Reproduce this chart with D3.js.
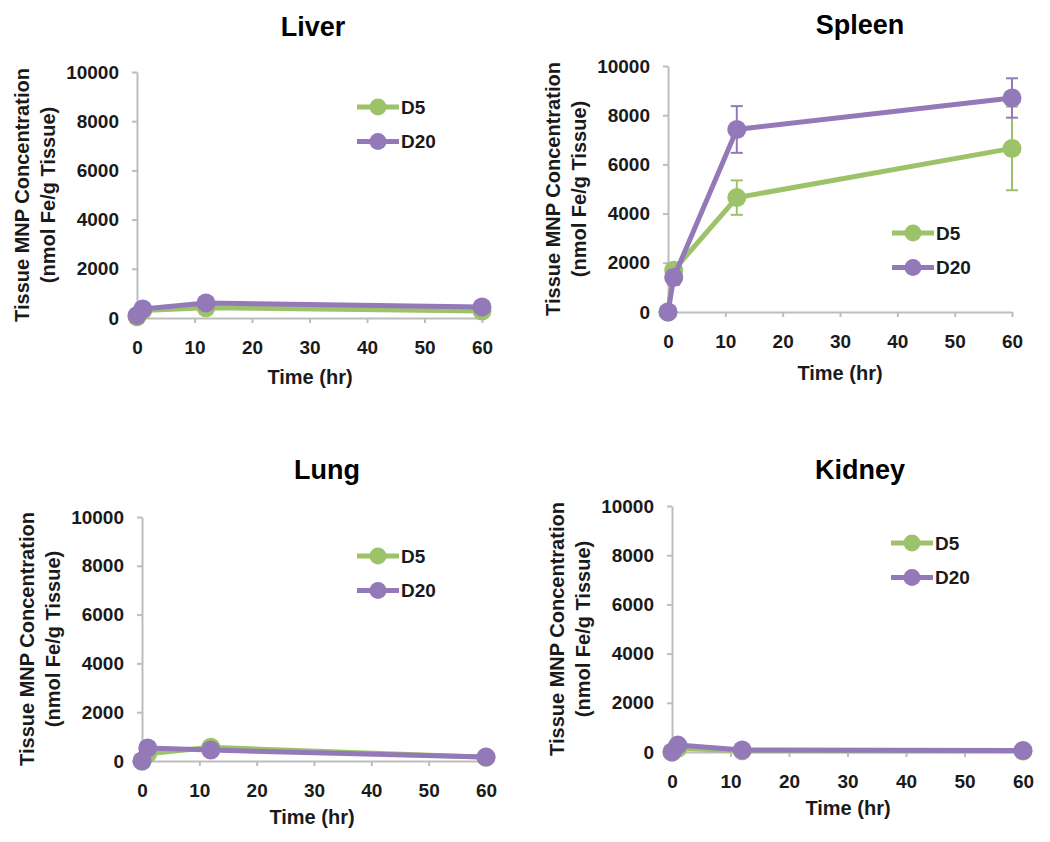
<!DOCTYPE html>
<html>
<head>
<meta charset="utf-8">
<script src="https://cdn.jsdelivr.net/npm/d3@7"></script>
<style>
  body { margin: 0; background: #fff; }
  svg { display: block; font-family: "Liberation Sans", Arial, sans-serif; font-weight: bold; }
</style>
</head>
<body>
<div id="chart"></div>
<script>
// sample times (hr)
const times = [0, 1, 12, 60];
const seriesNames = ["D5", "D20"];
const xTicks = [0, 10, 20, 30, 40, 50, 60];
const yTicks = [0, 2000, 4000, 6000, 8000, 10000];

// values (nmol Fe/g tissue)
const liverD5 = [50, 300, 420, 280];
const liverD20 = [100, 370, 610, 450];
const spleenD5 = [0, 1700, 4650, 6650];
const spleenD20 = [0, 1400, 7420, 8700];
const spleenD5Err = [0, 250, 700, 1700];
const spleenD20Err = [0, 300, 950, 800];
const lungD5 = [0, 300, 560, 150];
const lungD20 = [0, 530, 450, 160];
const kidneyD5 = [0, 150, 50, 40];
const kidneyD20 = [0, 280, 80, 60];

const colors = { D5: "#9dc36a", D20: "#9479b9" };
const textColor = "#1a1a1a";
const axisColor = "#bdbdbd";

// panel layout: x0/x1 = pixel for 0 and 60 hr, y0/y1 = pixel for 0 and 10000
const panels = [
  { title: "Liver", d5: liverD5, d20: liverD20,
    x0: 137, x1: 482, y0: 318, y1: 72, titleX: 313, titleY: 27, timeX: 310, timeY: 377, legX: 378, legY: 107 },
  { title: "Spleen", d5: spleenD5, d20: spleenD20, e5: spleenD5Err, e20: spleenD20Err,
    x0: 668, x1: 1012, y0: 312, y1: 66, titleX: 860, titleY: 25, timeX: 840, timeY: 373, legX: 913, legY: 233 },
  { title: "Lung", d5: lungD5, d20: lungD20,
    x0: 142, x1: 486, y0: 761, y1: 517, titleX: 327, titleY: 470, timeX: 312, timeY: 817, legX: 378, legY: 556 },
  { title: "Kidney", d5: kidneyD5, d20: kidneyD20,
    x0: 672, x1: 1023, y0: 752, y1: 506, titleX: 860, titleY: 470, timeX: 848, timeY: 808, legX: 912, legY: 543 }
];

const width = 1050, height = 842;
const svg = d3.select("#chart").append("svg")
  .attr("width", width)
  .attr("height", height);

panels.forEach(p => {
  const g = svg.append("g");
  const x = d3.scaleLinear().domain([0, 60]).range([p.x0, p.x1]);
  const y = d3.scaleLinear().domain([0, 10000]).range([p.y0, p.y1]);

  // title
  g.append("text")
    .attr("x", p.titleX).attr("y", p.titleY)
    .attr("dy", "0.35em")
    .attr("text-anchor", "middle")
    .attr("font-size", 27)
    .attr("fill", "#000")
    .text(p.title);

  // axes
  const xAxis = g.append("g")
    .attr("transform", `translate(0,${p.y0})`)
    .call(d3.axisBottom(x).tickValues(xTicks).tickFormat(d3.format("d"))
      .tickSize(5).tickPadding(18).tickSizeOuter(0));
  const yAxis = g.append("g")
    .attr("transform", `translate(${p.x0},0)`)
    .call(d3.axisLeft(y).tickValues(yTicks).tickFormat(d3.format("d"))
      .tickSize(5).tickPadding(13).tickSizeOuter(0));
  [xAxis, yAxis].forEach(a => {
    a.attr("font-family", null).attr("font-size", null);
    a.select(".domain").attr("stroke", axisColor).attr("stroke-width", 2);
    a.selectAll(".tick line").attr("stroke", axisColor).attr("stroke-width", 2);
    a.selectAll(".tick text").attr("fill", textColor).attr("font-size", 19);
  });

  // axis titles
  g.append("text")
    .attr("x", p.timeX).attr("y", p.timeY)
    .attr("dy", "0.35em")
    .attr("text-anchor", "middle")
    .attr("font-size", 20)
    .attr("fill", textColor)
    .text("Time (hr)");

  const yMid = (p.y0 + p.y1) / 2;
  [["Tissue MNP Concentration", -115], ["(nmol Fe/g Tissue)", -89]].forEach(([t, dx]) => {
    g.append("text")
      .attr("transform", `translate(${p.x0 + dx},${yMid}) rotate(-90)`)
      .attr("dy", "0.35em")
      .attr("text-anchor", "middle")
      .attr("font-size", 20)
      .attr("fill", textColor)
      .text(t);
  });

  // series
  const line = d3.line().x(d => x(d.t)).y(d => y(d.v));
  seriesNames.forEach(name => {
    const vals = name === "D5" ? p.d5 : p.d20;
    const errs = name === "D5" ? p.e5 : p.e20;
    const pts = times.map((t, i) => ({ t, v: vals[i], e: errs ? errs[i] : 0 }));
    const c = colors[name];

    // error bars
    const eb = g.append("g").attr("stroke", c).attr("stroke-width", 2);
    pts.filter(d => d.e > 0).forEach(d => {
      eb.append("line").attr("x1", x(d.t)).attr("x2", x(d.t))
        .attr("y1", y(d.v - d.e)).attr("y2", y(d.v + d.e));
      [d.v - d.e, d.v + d.e].forEach(v => {
        eb.append("line").attr("x1", x(d.t) - 6).attr("x2", x(d.t) + 6)
          .attr("y1", y(v)).attr("y2", y(v));
      });
    });

    g.append("path")
      .datum(pts)
      .attr("d", line)
      .attr("fill", "none")
      .attr("stroke", c)
      .attr("stroke-width", 5)
      .attr("stroke-linejoin", "round");

    g.selectAll(null)
      .data(pts)
      .enter().append("circle")
        .attr("cx", d => x(d.t))
        .attr("cy", d => y(d.v))
        .attr("r", 9.5)
        .attr("fill", c);
  });

  // legend
  seriesNames.forEach((name, i) => {
    const ly = p.legY + i * 34.5;
    const c = colors[name];
    g.append("line")
      .attr("x1", p.legX - 21).attr("x2", p.legX + 21)
      .attr("y1", ly).attr("y2", ly)
      .attr("stroke", c).attr("stroke-width", 5);
    g.append("circle")
      .attr("cx", p.legX).attr("cy", ly).attr("r", 8.5)
      .attr("fill", c);
    g.append("text")
      .attr("x", p.legX + 23).attr("y", ly)
      .attr("dy", "0.36em")
      .attr("font-size", 19)
      .attr("fill", textColor)
      .text(name);
  });
});
</script>
</body>
</html>
